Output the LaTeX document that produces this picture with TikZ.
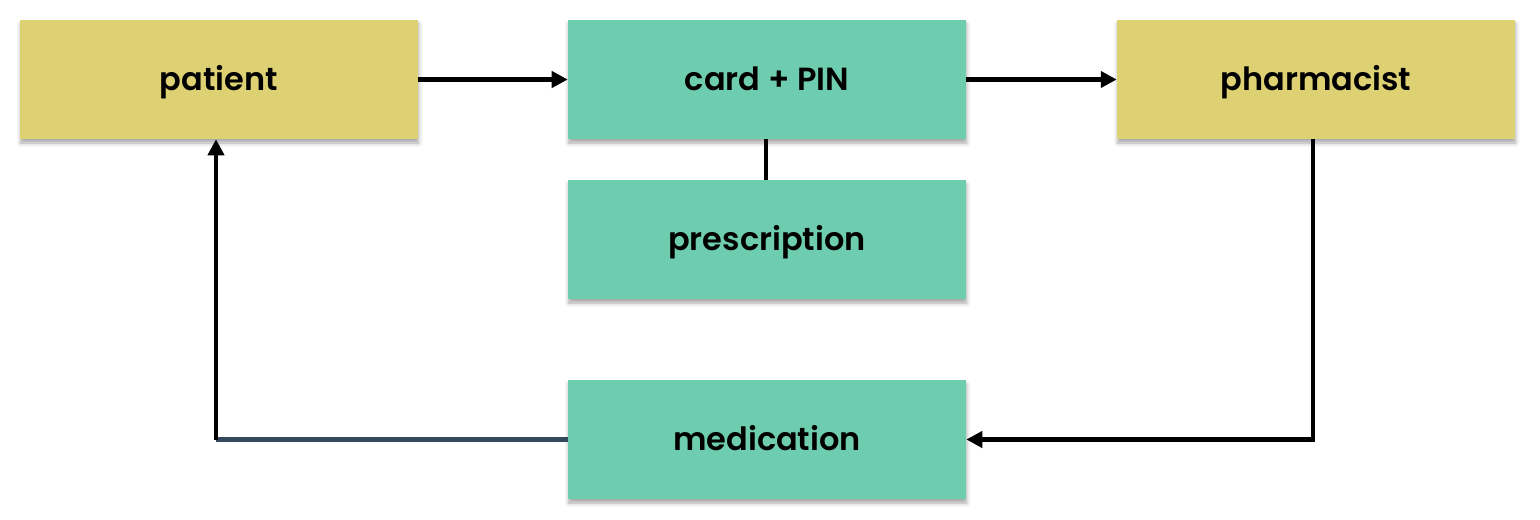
\documentclass[tikz,border=0pt]{standalone}
\usepackage{fontspec}
\setmainfont{Poppins}[BoldFont={Poppins SemiBold}]
\usetikzlibrary{arrows.meta,shadows.blur}
\definecolor{ylw}{HTML}{DDD174}
\definecolor{grn}{HTML}{6FCDAF}
\definecolor{slate}{HTML}{34495E}
\begin{document}
\begin{tikzpicture}[x=0.75pt,y=-0.75pt,
  box/.style={minimum width=298.5pt,minimum height=89.25pt,inner sep=0pt,
    text height=20.5pt,text depth=4pt,
    font=\bfseries\fontsize{24}{28}\selectfont,
    blur shadow={shadow xshift=0.5pt,shadow yshift=-3pt,shadow blur radius=3pt,shadow opacity=35}},
  ybox/.style={box,fill=ylw},
  gbox/.style={box,fill=grn},
  conn/.style={line width=3.2pt,black},
  arr/.style={conn,-{Triangle[length=12pt,width=12pt]}}]
\useasboundingbox (0,0) rectangle (1540,520);
\node[ybox] (patient) at (219,79.5) {patient};
\node[gbox] (card) at (767,79.5) {card + PIN};
\node[ybox] (pharm) at (1316,79.5) {pharmacist};
\node[gbox] (presc) at (767,239.5) {prescription};
\node[gbox] (med) at (767,439.5) {medication};
\coordinate (corner) at (216,439.5);
\coordinate (rcorner) at (1313,439.5);
\draw[arr] (patient.east) -- (card.west);
\draw[arr] (card.east) -- (pharm.west);
\draw[conn] (card.south -| 766,0) -- (presc.north -| 766,0);
\draw[arr] (pharm.south -| rcorner) -- (rcorner) -- (med.east);
\draw[line width=3.2pt,slate] (med.west) -- (corner);
\draw[arr] (corner) -- (patient.south -| corner);
\end{tikzpicture}
\end{document}
